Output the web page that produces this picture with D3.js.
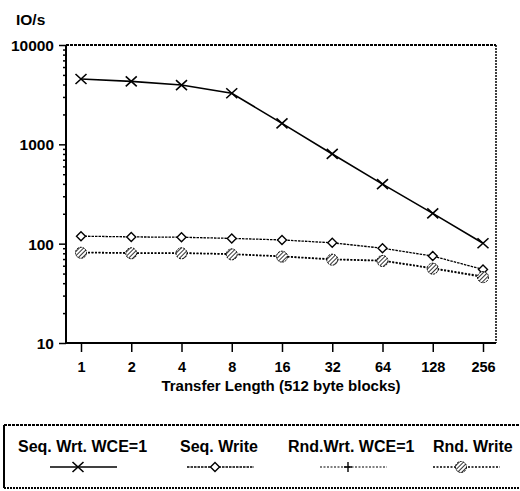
<!DOCTYPE html>
<html>
<head>
<meta charset="utf-8">
<script src="https://cdn.jsdelivr.net/npm/d3@7"></script>
<style>
  body { margin: 0; background: #fff; }
  text { font-family: "Liberation Sans", Arial, sans-serif; font-weight: bold; fill: #000; }
</style>
</head>
<body>
<div id="chart"></div>
<script>
const transferLengths = [1, 2, 4, 8, 16, 32, 64, 128, 256];
const seqWrtWce = [4550, 4300, 3950, 3270, 1625, 800, 398, 202, 101];
const seqWrite = [119, 117, 116, 113, 109, 102, 90, 75, 55];
const rndWrtWce = [82, 81, 81, 79, 75, 70, 68, 57, 47];
const rndWrite = [81, 80, 80, 78, 74, 69, 67, 56, 46];
const yMajorTicks = [10, 100, 1000, 10000];
const seriesNames = ["Seq. Wrt. WCE=1", "Seq. Write", "Rnd.Wrt. WCE=1", "Rnd. Write"];

const width = 520, height = 491;
const plotLeft = 66, plotRight = 496, plotTop = 45, plotBottom = 343;

const svg = d3.select("#chart").append("svg")
    .attr("width", width)
    .attr("height", height);

// hatch pattern for the Rnd. Write marker
const pat = svg.append("defs").append("pattern")
    .attr("id", "hatch")
    .attr("patternUnits", "userSpaceOnUse")
    .attr("width", 3).attr("height", 3)
    .attr("patternTransform", "rotate(45)");
pat.append("rect").attr("width", 3).attr("height", 3).attr("fill", "#fff");
pat.append("line").attr("x1", 0).attr("y1", 0).attr("x2", 0).attr("y2", 3)
    .attr("stroke", "#000").attr("stroke-width", 1.6);

const x = d3.scalePoint()
    .domain(transferLengths)
    .range([81, 483]);

const y = d3.scaleLog()
    .domain([10, 10000])
    .range([plotBottom, plotTop]);

// frame: top dashed, right dotted
svg.append("line").attr("x1", plotLeft).attr("x2", plotRight).attr("y1", plotTop).attr("y2", plotTop)
    .attr("stroke", "#000").attr("stroke-width", 2).attr("stroke-dasharray", "3,1");
svg.append("line").attr("x1", plotRight).attr("x2", plotRight).attr("y1", plotTop).attr("y2", plotBottom)
    .attr("stroke", "#000").attr("stroke-width", 1.5).attr("stroke-dasharray", "2,1");

// y axis
const minorTicks = [];
[10, 100, 1000].forEach(d => { for (let k = 2; k <= 9; k++) minorTicks.push(d * k); });

svg.append("g")
    .attr("transform", `translate(${plotLeft},0)`)
    .call(d3.axisLeft(y).tickValues(minorTicks).tickSize(3).tickFormat(""))
    .call(g => g.select(".domain").remove())
    .call(g => g.selectAll("line").attr("stroke-width", 1.5));

svg.append("g")
    .attr("transform", `translate(${plotLeft},0)`)
    .call(d3.axisLeft(y).tickValues(yMajorTicks).tickSize(7).tickPadding(5).tickFormat(d3.format("d")))
    .call(g => g.select(".domain").attr("d", `M0,${plotTop}V${plotBottom}`).attr("stroke-width", 2))
    .call(g => g.selectAll("line").attr("stroke-width", 1.5))
    .call(g => g.selectAll("text").style("font-size", "15.5px").attr("dy", "0.36em"));

// x axis
svg.append("g")
    .attr("transform", `translate(0,${plotBottom})`)
    .call(d3.axisBottom(x).tickSize(9).tickPadding(10))
    .call(g => g.select(".domain").attr("d", `M${plotLeft},0H${plotRight}`).attr("stroke-width", 2))
    .call(g => g.selectAll("line").attr("stroke-width", 1.5))
    .call(g => g.selectAll("text").style("font-size", "14.5px"));

svg.append("text")
    .attr("x", 281).attr("y", 391)
    .attr("text-anchor", "middle")
    .style("font-size", "15px")
    .text("Transfer Length (512 byte blocks)");

svg.append("text")
    .attr("x", 16).attr("y", 25)
    .style("font-size", "15.5px")
    .text("IO/s");

// marker drawers
function markX(g, cx, cy) {
    g.append("path").attr("d", `M${cx - 5.5},${cy - 5}L${cx + 5.5},${cy + 5}M${cx - 5.5},${cy + 5}L${cx + 5.5},${cy - 5}`)
        .attr("stroke", "#000").attr("stroke-width", 1.6).attr("fill", "none");
}
function markDiamond(g, cx, cy) {
    g.append("path").attr("d", `M${cx},${cy - 4.5}L${cx + 4.5},${cy}L${cx},${cy + 4.5}L${cx - 4.5},${cy}Z`)
        .attr("stroke", "#000").attr("stroke-width", 1.4).attr("fill", "#fff");
}
function markPlus(g, cx, cy) {
    g.append("path").attr("d", `M${cx},${cy - 5}V${cy + 5}M${cx - 4},${cy}H${cx + 4}`)
        .attr("stroke", "#000").attr("stroke-width", 1.4).attr("fill", "none");
}
function markHatch(g, cx, cy) {
    g.append("circle").attr("cx", cx).attr("cy", cy).attr("r", 5.5)
        .attr("fill", "url(#hatch)").attr("stroke", "#000").attr("stroke-width", 1).attr("stroke-dasharray", "2,1");
}

const series = [
    { name: seriesNames[0], values: seqWrtWce, dash: null, width: 1.6, mark: markX },
    { name: seriesNames[1], values: seqWrite, dash: "2.5,1", width: 1.3, mark: markDiamond },
    { name: seriesNames[2], values: rndWrtWce, dash: "2,1.5", width: 1.2, mark: markPlus },
    { name: seriesNames[3], values: rndWrite, dash: "2,1.5", width: 1.3, mark: markHatch }
];

const line = d3.line()
    .x((d, i) => x(transferLengths[i]))
    .y(d => y(d));

series.forEach(s => {
    const g = svg.append("g");
    g.append("path")
        .datum(s.values)
        .attr("d", line)
        .attr("fill", "none")
        .attr("stroke", "#000")
        .attr("stroke-width", s.width)
        .attr("stroke-dasharray", s.dash);
    s.values.forEach((v, i) => s.mark(g, x(transferLengths[i]), y(v)));
});

// legend
const legend = svg.append("g");
legend.append("line").attr("x1", 4).attr("x2", 4).attr("y1", 425).attr("y2", 488)
    .attr("stroke", "#000").attr("stroke-width", 2);
legend.append("line").attr("x1", 4).attr("x2", 520).attr("y1", 425).attr("y2", 425)
    .attr("stroke", "#000").attr("stroke-width", 2).attr("stroke-dasharray", "3,1");
legend.append("line").attr("x1", 4).attr("x2", 520).attr("y1", 488).attr("y2", 488)
    .attr("stroke", "#000").attr("stroke-width", 2).attr("stroke-dasharray", "2,1");

const legendX = [18, 180, 288, 433];
const sampleX = [50, 187, 320, 433];
series.forEach((s, i) => {
    legend.append("text")
        .attr("x", legendX[i]).attr("y", 452)
        .style("font-size", "16px")
        .text(s.name);
    legend.append("line")
        .attr("x1", sampleX[i]).attr("x2", sampleX[i] + 67)
        .attr("y1", 467).attr("y2", 467)
        .attr("stroke", "#000").attr("stroke-width", s.width)
        .attr("stroke-dasharray", s.dash);
    s.mark(legend, sampleX[i] + 28, 467);
});
</script>
</body>
</html>
